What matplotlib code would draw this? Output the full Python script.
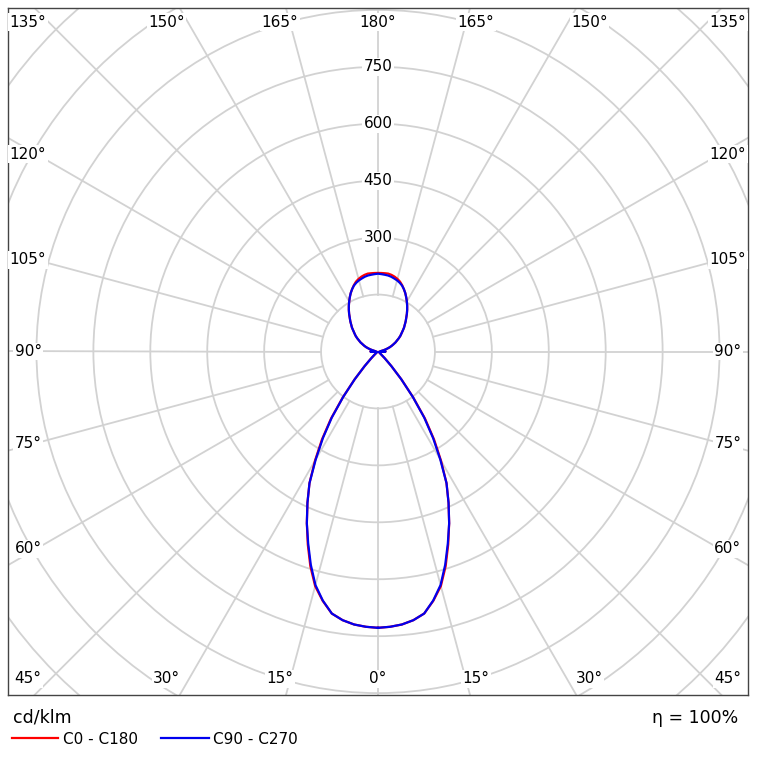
import numpy as np
import matplotlib.pyplot as plt
from matplotlib.patches import Circle
from matplotlib.lines import Line2D

# luminous intensity, cd/klm, gamma 0..180 every 2.5 deg
gamma = [i * 2.5 for i in range(73)]
c0_c180 = [728, 726, 722, 714, 701, 673, 640, 593, 541, 490, 440, 391,
           332, 275, 216, 152, 96, 52, 25, 12, 6, 4, 3, 3,
           3, 3, 3, 3, 3, 3, 3, 4, 4, 5, 7, 12,
           20, 12, 7, 7, 10, 14, 20, 26, 33, 39, 45, 52,
           58, 65, 72, 78, 85, 93, 100, 108, 116, 125, 134, 143,
           152, 161, 170, 178, 186, 193, 198, 202, 205, 207, 207, 207, 207]
c90_c270 = [728, 726, 722, 714, 701, 672, 637, 589, 538, 490, 440, 391,
            328, 270, 212, 150, 95, 52, 25, 12, 6, 4, 3, 3,
            3, 3, 3, 3, 3, 3, 3, 4, 4, 5, 7, 12,
            20, 12, 7, 7, 10, 14, 20, 26, 33, 39, 45, 52,
            58, 65, 72, 78, 85, 93, 100, 108, 116, 125, 134, 143,
            152, 161, 170, 178, 185, 190, 194, 197, 200, 202, 203, 204, 205]
ring_values = [300, 450, 600, 750]
bottom_labels = [0, 15, 30, 45]
side_labels = [60, 75, 90, 105, 120]
top_labels = [135, 150, 165, 180]

grid_col = '#d2d2d2'


def curve(values):
    g = np.radians(np.array(gamma, dtype=float))
    r = np.array(values, dtype=float)
    x = np.concatenate([r * np.sin(g), -(r * np.sin(g))[::-1]])
    y = np.concatenate([-r * np.cos(g), (-r * np.cos(g))[::-1]])
    return x, y


fig = plt.figure(figsize=(7.57, 7.68), dpi=100)
ax = fig.add_axes([8 / 757, (768 - 695) / 768, 740 / 757, 687 / 768])
ax.set_xlim(-975, 975)
ax.set_ylim(-905, 905)
ax.set_xticks([])
ax.set_yticks([])
for s in ax.spines.values():
    s.set_color('#444444')
    s.set_linewidth(1.0)

# rings and spokes
for r in range(150, 1351, 150):
    ax.add_patch(Circle((0, 0), r, fill=False, color=grid_col, lw=1.3, zorder=1))
for a in range(0, 360, 15):
    t = np.radians(a)
    ax.plot([150 * np.sin(t), 2000 * np.sin(t)], [-150 * np.cos(t), -2000 * np.cos(t)],
            color=grid_col, lw=1.3, zorder=1)

lab = dict(fontsize=11, ha='center', va='center', zorder=3,
           bbox=dict(facecolor='white', edgecolor='none', pad=1.0))
for v in ring_values:
    ax.text(0, v, str(v), **lab)
for a in bottom_labels:
    x = min(965 * np.tan(np.radians(a)), 922)
    for sx in ([1] if a == 0 else [-1, 1]):
        ax.text(sx * x, -862, f'{a}°', **lab)
for a in top_labels:
    x = min(965 * np.tan(np.radians(180 - a)), 922)
    for sx in ([1] if a == 180 else [-1, 1]):
        ax.text(sx * x, 868, f'{a}°', **lab)
for a in side_labels:
    y = -900 * np.tan(np.radians(90 - a))
    for sx in [-1, 1]:
        ax.text(sx * 922, y, f'{a}°', **lab)

x, y = curve(c0_c180)
ax.plot(x, y, color='#ff0000', lw=1.6, zorder=4)
x, y = curve(c90_c270)
ax.plot(x, y, color='#0000ee', lw=1.6, zorder=5)

# legend / footer
fig.text(13 / 757, 1 - 718 / 768, 'cd/klm', fontsize=12.5, ha='left', va='center')
fig.add_artist(Line2D([12 / 757, 58 / 757], [1 - 738 / 768] * 2, color='#ff0000', lw=1.6))
fig.text(63 / 757, 1 - 739 / 768, 'C0 - C180', fontsize=11, ha='left', va='center')
fig.add_artist(Line2D([161 / 757, 209 / 757], [1 - 738 / 768] * 2, color='#0000ee', lw=1.6))
fig.text(213 / 757, 1 - 739 / 768, 'C90 - C270', fontsize=11, ha='left', va='center')
fig.text(738 / 757, 1 - 718 / 768, 'η = 100%', fontsize=12.5, ha='right', va='center')

fig.savefig('out.png', dpi=100)
